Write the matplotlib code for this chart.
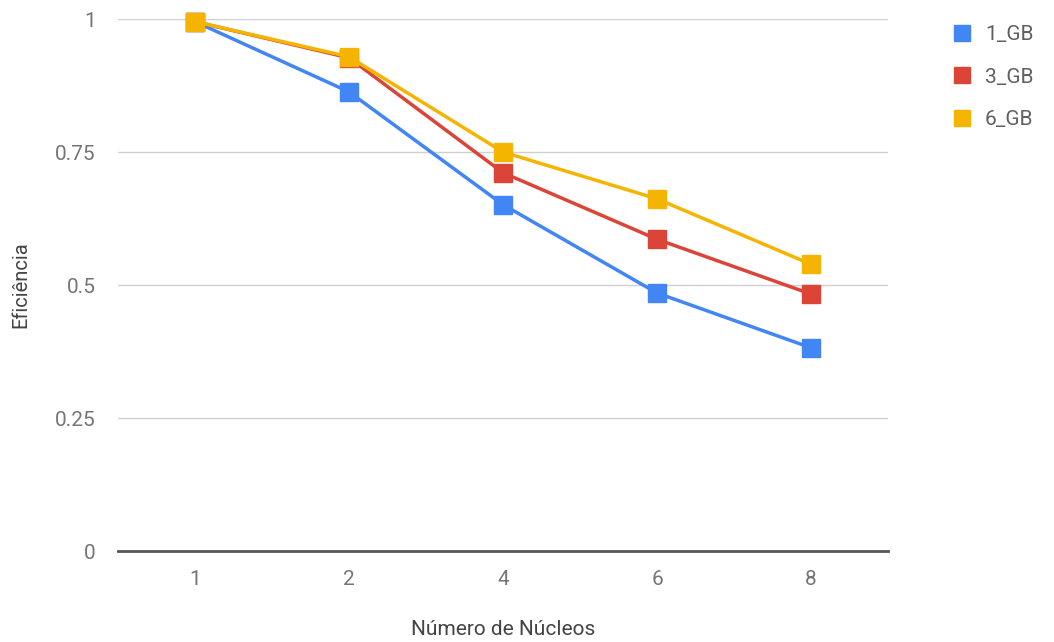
import matplotlib.pyplot as plt
from matplotlib.lines import Line2D

cores = ["1", "2", "4", "6", "8"]
series_names = ["1_GB", "3_GB", "6_GB"]
eff_1gb = [0.995, 0.863, 0.651, 0.485, 0.382]
eff_3gb = [0.995, 0.927, 0.711, 0.586, 0.483]
eff_6gb = [0.995, 0.929, 0.750, 0.662, 0.539]
colors = ["#4285F4", "#DB4437", "#F4B400"]

plt.rcParams["font.family"] = ["Roboto", "DejaVu Sans"]

fig = plt.figure(figsize=(10.54, 6.42), dpi=100)
ax = fig.add_axes([0.112, 0.1417, 0.7305, 0.8287])

x = list(range(len(cores)))
for vals, c in zip([eff_1gb, eff_3gb, eff_6gb], colors):
    ax.plot(x, vals, color=c, lw=2.5, marker="s", markersize=13,
            clip_on=False, zorder=3)

ax.set_xlim(-0.5, len(cores) - 0.5)
ax.set_ylim(0, 1)
ax.set_xticks(x)
ax.set_xticklabels(cores)
ax.set_yticks([0, 0.25, 0.5, 0.75, 1])
ax.set_yticklabels(["0", "0.25", "0.5", "0.75", "1"])
ax.tick_params(length=0, labelsize=15, labelcolor="#757575")
ax.tick_params(axis="y", pad=16)
ax.tick_params(axis="x", pad=14)

ax.grid(axis="y", color="#d0d0d0", lw=1)
ax.set_axisbelow(True)
for s in ["top", "right", "left"]:
    ax.spines[s].set_visible(False)
ax.spines["bottom"].set_color("#555555")
ax.spines["bottom"].set_linewidth(2)

ax.set_xlabel("Número de Núcleos", fontsize=15, color="#444444", labelpad=22)
ax.set_ylabel("Eficiência", fontsize=14.5, color="#444444", labelpad=18)

handles = [Line2D([], [], color=c, marker="s", linestyle="none", markersize=12)
           for c in colors]
fig.legend(handles, series_names, loc="upper left", bbox_to_anchor=(0.885, 0.99),
           frameon=False, fontsize=15, labelcolor="#606060", handletextpad=0.6,
           labelspacing=1.12, handlelength=1.0)

fig.savefig("out.png", dpi=100)
